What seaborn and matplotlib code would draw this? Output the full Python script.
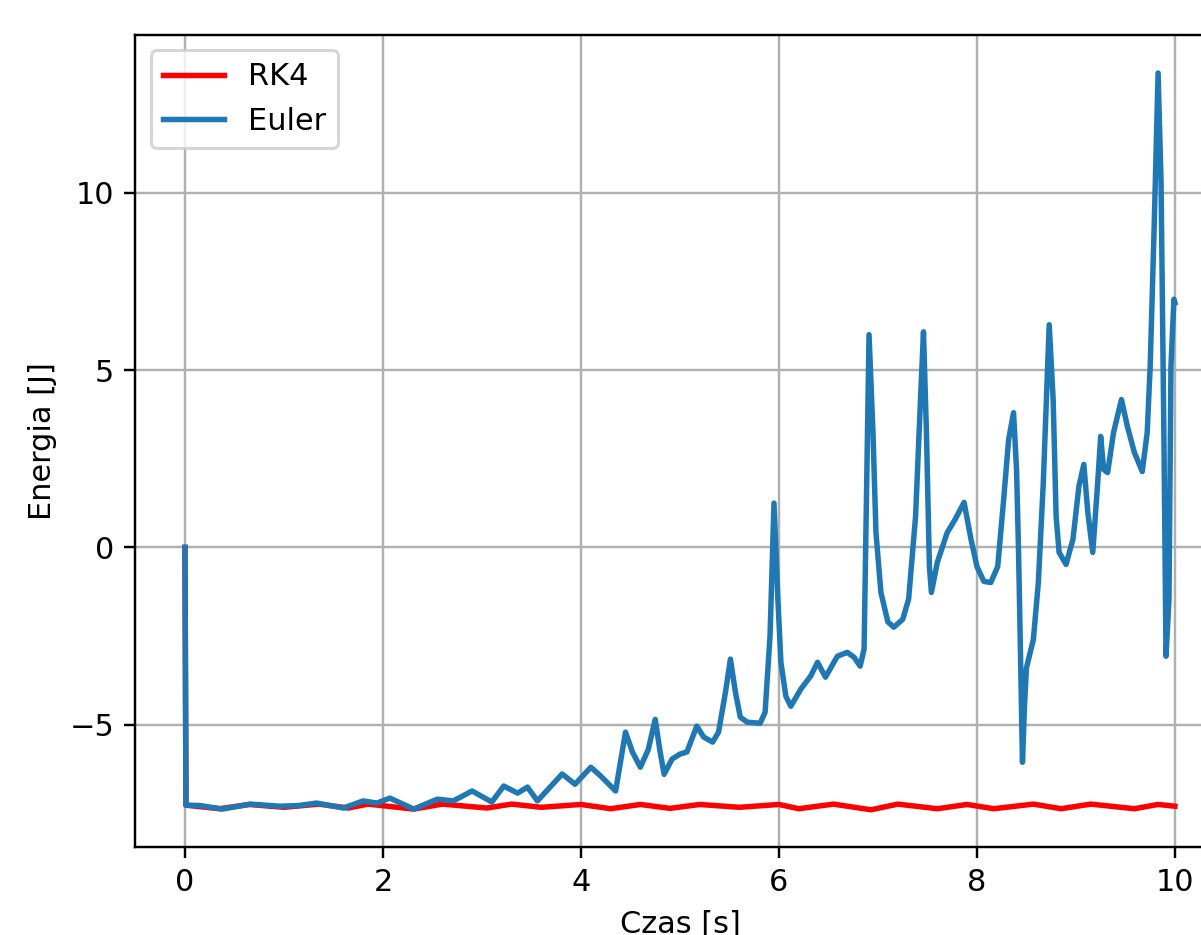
import matplotlib
matplotlib.use("Agg")
import matplotlib.pyplot as plt
import seaborn as sns
import pandas as pd

# Energia całkowita w czasie: metoda Eulera vs RK4
t_euler = [0.00, 0.01, 0.15, 0.38, 0.66, 0.96, 1.15, 1.33, 1.60, 1.80, 1.94, 2.07,
           2.31, 2.55, 2.71, 2.90, 3.10, 3.22, 3.36, 3.46, 3.56, 3.81, 3.94, 4.10,
           4.20, 4.35, 4.45, 4.52, 4.60, 4.68, 4.75, 4.80, 4.84, 4.92, 5.00, 5.07,
           5.17, 5.24, 5.33, 5.39, 5.46, 5.51, 5.56, 5.61, 5.68, 5.81, 5.86, 5.91,
           5.95, 5.99, 6.02, 6.07, 6.12, 6.22, 6.32, 6.39, 6.47, 6.59, 6.69, 6.76,
           6.82, 6.86, 6.91, 6.95, 6.98, 7.03, 7.10, 7.16, 7.25, 7.31, 7.38, 7.43,
           7.46, 7.49, 7.52, 7.54, 7.60, 7.70, 7.78, 7.87, 7.94, 8.00, 8.07, 8.14,
           8.21, 8.27, 8.32, 8.37, 8.40, 8.42, 8.44, 8.46, 8.48, 8.50, 8.57, 8.62,
           8.67, 8.73, 8.77, 8.80, 8.83, 8.90, 8.97, 9.03, 9.08, 9.12, 9.17, 9.22,
           9.25, 9.28, 9.32, 9.38, 9.46, 9.52, 9.59, 9.67, 9.72, 9.75, 9.79, 9.83,
           9.86, 9.89, 9.91, 9.94, 9.96, 9.99, 10.00]
e_euler = [0.00, -7.27, -7.28, -7.38, -7.24, -7.30, -7.28, -7.21, -7.35, -7.15, -7.21, -7.07,
           -7.38, -7.10, -7.15, -6.87, -7.18, -6.73, -6.93, -6.76, -7.15, -6.39, -6.68, -6.20,
           -6.45, -6.87, -5.21, -5.77, -6.20, -5.70, -4.85, -5.77, -6.40, -5.97, -5.83, -5.77,
           -5.04, -5.35, -5.49, -5.21, -4.08, -3.15, -4.08, -4.79, -4.93, -4.96, -4.65, -2.50,
           1.25, -1.50, -3.24, -4.20, -4.48, -4.00, -3.63, -3.24, -3.66, -3.07, -2.96, -3.10,
           -3.35, -2.87, 6.00, 3.24, 0.42, -1.27, -2.10, -2.25, -2.03, -1.46, 0.87, 4.17,
           6.08, 3.24, -0.54, -1.27, -0.42, 0.42, 0.79, 1.27, 0.23, -0.54, -0.96, -0.99,
           -0.54, 1.35, 3.04, 3.80, 2.20, -0.06, -3.00, -6.06, -4.50, -3.40, -2.60, -1.00,
           1.80, 6.28, 4.17, 0.87, -0.14, -0.48, 0.23, 1.72, 2.34, 0.99, -0.14, 1.83,
           3.13, 2.20, 2.11, 3.24, 4.17, 3.41, 2.68, 2.14, 3.24, 5.10, 9.00, 13.38,
           10.30, 2.80, -3.07, -1.46, 5.10, 7.00, 6.90]

t_rk4 = [0.00, 0.01, 0.35, 0.65, 1.00, 1.35, 1.65, 1.85, 2.31, 2.60, 3.05, 3.30,
         3.60, 4.00, 4.30, 4.60, 4.90, 5.20, 5.60, 6.00, 6.20, 6.55, 6.93, 7.20,
         7.60, 7.90, 8.17, 8.57, 8.85, 9.15, 9.59, 9.83, 10.00]
e_rk4 = [0.00, -7.27, -7.37, -7.25, -7.33, -7.24, -7.35, -7.24, -7.38, -7.24, -7.35, -7.24,
         -7.33, -7.25, -7.37, -7.25, -7.36, -7.25, -7.33, -7.25, -7.37, -7.24, -7.40, -7.24,
         -7.37, -7.25, -7.37, -7.24, -7.37, -7.24, -7.37, -7.25, -7.30]

df_rk4 = pd.DataFrame({"t": t_rk4, "E": e_rk4})
df_euler = pd.DataFrame({"t": t_euler, "E": e_euler})

DPI = 219
fig = plt.figure(figsize=(1201 / DPI, 935 / DPI), dpi=DPI)
ax = fig.add_axes([0.1128, 0.0941, 0.9067, 0.8684])

sns.lineplot(data=df_rk4, x="t", y="E", ax=ax, color="red", label="RK4",
             estimator=None, linewidth=1.8)
sns.lineplot(data=df_euler, x="t", y="E", ax=ax, color="#1f77b4", label="Euler",
             estimator=None, linewidth=1.8)

ax.set_xlim(-0.5, 10.5)
ax.set_ylim(-8.45, 14.45)
ax.set_xticks([0, 2, 4, 6, 8, 10])
ax.set_yticks([-5, 0, 5, 10])
ax.grid(True, color="#b0b0b0", linewidth=0.8)
ax.set_axisbelow(True)
ax.set_xlabel("Czas [s]")
ax.set_ylabel("Energia [J]")
ax.legend(loc="upper left")

fig.savefig("out.png", dpi=DPI)
